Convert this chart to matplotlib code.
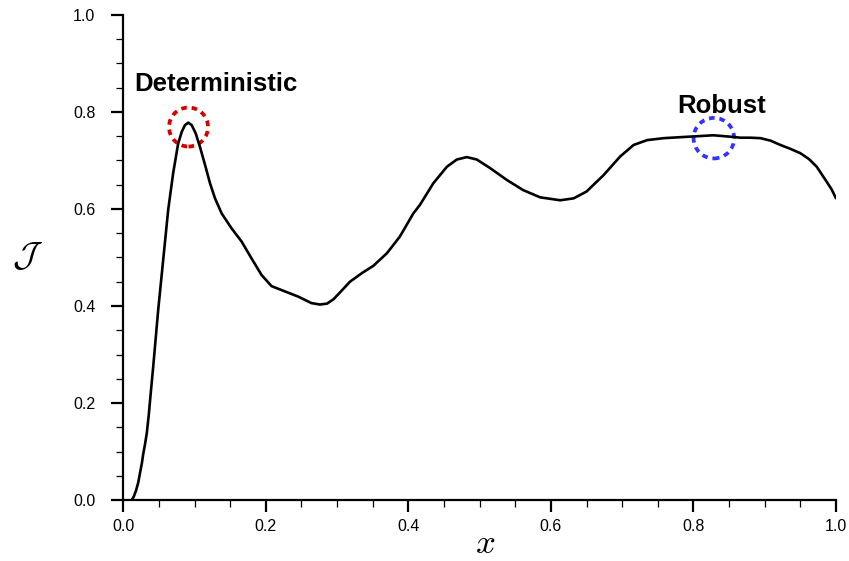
import matplotlib
matplotlib.use("Agg")
import matplotlib.pyplot as plt
from matplotlib.patches import Ellipse
from matplotlib.ticker import MultipleLocator, FormatStrFormatter

x_vals = [0.012, 0.015, 0.018, 0.021, 0.0235, 0.026, 0.028, 0.0305, 0.033, 0.0358,
          0.0385, 0.042, 0.049, 0.056, 0.063,
          0.070, 0.077, 0.082, 0.0866, 0.0912, 0.096, 0.1016, 0.1076, 0.1147, 0.1217,
          0.1287, 0.138, 0.152, 0.166, 0.180, 0.194, 0.208, 0.227, 0.246, 0.264,
          0.276, 0.286, 0.295, 0.306, 0.318, 0.335, 0.351, 0.370, 0.388, 0.407,
          0.416, 0.435, 0.454, 0.468, 0.482, 0.496, 0.515, 0.538, 0.561, 0.585,
          0.613, 0.632, 0.650, 0.674, 0.697, 0.716, 0.735, 0.758, 0.781, 0.805,
          0.828, 0.852, 0.866, 0.880, 0.894, 0.908, 0.922, 0.936, 0.950, 0.962,
          0.973, 0.987, 0.994, 1.000]
j_vals = [0.000, 0.008, 0.020, 0.036, 0.056, 0.075, 0.095, 0.115, 0.138, 0.176,
          0.220, 0.275, 0.392, 0.495, 0.598,
          0.674, 0.735, 0.759, 0.773, 0.778, 0.773, 0.756, 0.728, 0.691, 0.653,
          0.622, 0.591, 0.560, 0.533, 0.498, 0.464, 0.441, 0.430, 0.419, 0.406,
          0.403, 0.405, 0.414, 0.431, 0.450, 0.468, 0.483, 0.509, 0.543, 0.591,
          0.608, 0.653, 0.687, 0.702, 0.707, 0.702, 0.684, 0.660, 0.639, 0.624,
          0.618, 0.622, 0.636, 0.670, 0.708, 0.732, 0.742, 0.746, 0.748, 0.750,
          0.752, 0.749, 0.747, 0.747, 0.746, 0.741, 0.732, 0.724, 0.715, 0.703,
          0.687, 0.656, 0.640, 0.622]

det_point = (0.0915, 0.769)
rob_point = (0.8286, 0.746)
det_label = "Deterministic"
rob_label = "Robust"

plt.rcParams['mathtext.fontset'] = 'cm'
fig = plt.figure(figsize=(8.49, 5.61), dpi=100)
ax = fig.add_axes([0.1452, 0.1087, 0.9847 - 0.1452, 0.9733 - 0.1087])

ax.plot(x_vals, j_vals, color='black', lw=1.9, solid_capstyle='round', solid_joinstyle='round')

ax.set_xlim(0, 1)
ax.set_ylim(0, 1)

# circles (about 39 px across)
w = 39 / 712.5
h = 39 / 485
ax.add_patch(Ellipse(det_point, w, h, fill=False, edgecolor='#d40000', lw=2.7,
                     linestyle=(0, (1.5, 1.3)), clip_on=False))
ax.add_patch(Ellipse(rob_point, w * 1.04, h * 1.04, fill=False, edgecolor='#3333ff', lw=2.7,
                     linestyle=(0, (1.5, 1.3)), clip_on=False))

ax.text(0.1295, 0.843, det_label, fontsize=18.5, fontweight='bold', family='Liberation Sans',
        ha='center', va='baseline')
ax.text(0.8395, 0.798, rob_label, fontsize=18.5, fontweight='bold', family='Liberation Sans',
        ha='center', va='baseline')

for s in ['top', 'right']:
    ax.spines[s].set_visible(False)
for s in ['left', 'bottom']:
    ax.spines[s].set_linewidth(1.6)

ax.xaxis.set_major_locator(MultipleLocator(0.2))
ax.xaxis.set_minor_locator(MultipleLocator(0.05))
ax.yaxis.set_major_locator(MultipleLocator(0.2))
ax.yaxis.set_minor_locator(MultipleLocator(0.05))
ax.xaxis.set_major_formatter(FormatStrFormatter('%.1f'))
ax.yaxis.set_major_formatter(FormatStrFormatter('%.1f'))
ax.tick_params(axis='both', which='major', direction='out', length=8.6, width=1.6,
               labelsize=11.5, labelfontfamily='Liberation Sans')
ax.tick_params(axis='both', which='minor', direction='out', length=5, width=0.9)
ax.tick_params(axis='y', which='major', pad=11.5)
ax.tick_params(axis='x', which='major', pad=5)

ax.text(0.508, -0.110, r'$x$', fontsize=25, ha='center', va='baseline',
        transform=ax.transAxes, clip_on=False)
ax.text(-0.1338, 0.503, r'$\mathcal{J}$', fontsize=25, ha='center', va='center',
        transform=ax.transAxes, clip_on=False)

fig.savefig('out.png', dpi=100)
